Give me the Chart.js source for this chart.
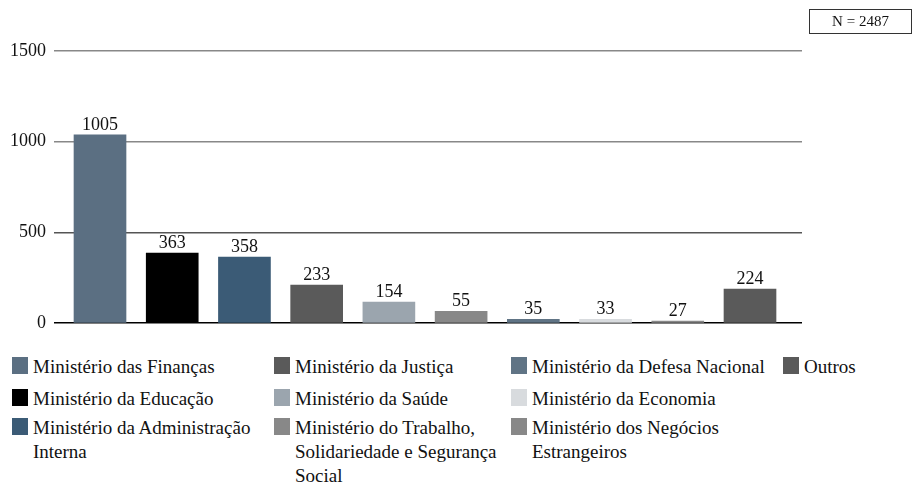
<!DOCTYPE html>
<html>
<head>
<meta charset="utf-8">
<script src="https://cdn.jsdelivr.net/npm/chart.js@4.4.0/dist/chart.umd.min.js"></script>
<style>
  body { margin: 0; background: #fff; font-family: "Liberation Serif", serif; }
  #wrap { position: relative; width: 913px; height: 482px; overflow: hidden; }
  #box { position: absolute; top: 0; left: 0; width: 913px; height: 342px; }
  #nbox { position: absolute; left: 809px; top: 9px; width: 101px; height: 23px; border: 1px solid #333;
          font-family: "Liberation Serif", serif; font-size: 15px; text-align: center; line-height: 23px; color: #111; }
  .item { position: absolute; padding-left: 21px; font-family: "Liberation Serif", serif; font-size: 19px;
          line-height: 24px; color: #111; }
  .sw { position: absolute; left: 0; top: 2px; width: 16px; height: 17px; }
</style>
</head>
<body>
<div id="wrap">
  <div id="box"><canvas id="grafico"></canvas></div>
  <div id="nbox">N = 2487</div>
  <div id="legend"></div>
</div>
<script>
// ministérios (ordem das barras)
var ministerios = [
  "Ministério das Finanças",
  "Ministério da Educação",
  "Ministério da Administração Interna",
  "Ministério da Justiça",
  "Ministério da Saúde",
  "Ministério do Trabalho, Solidariedade e Segurança Social",
  "Ministério da Defesa Nacional",
  "Ministério da Economia",
  "Ministério dos Negócios Estrangeiros",
  "Outros"
];
// altura das barras tal como desenhadas
var alturas = [1038, 387, 365, 210, 116, 66, 22, 22, 11, 188];
// numeros escritos por cima das barras
var rotulos = ["1005", "363", "358", "233", "154", "55", "35", "33", "27", "224"];
var cores = ["#5b6f82", "#000000", "#3b5b76", "#5a5a5a", "#9ba5ae", "#888888", "#607485", "#d8dbde", "#888888", "#5a5a5a"];
var ticksY = [0, 500, 1000, 1500];

var fonte = "Liberation Serif";

var pontos = [];
for (var i in alturas) {
  pontos.push({x: Number(i), y: alturas[i]});
}

var rotulosPlugin = {
  id: 'rotulos',
  afterDatasetsDraw: function(chart) {
    var ctx = chart.ctx;
    var meta = chart.getDatasetMeta(0);
    ctx.save();
    ctx.font = '18px "Liberation Serif"';
    ctx.fillStyle = '#111';
    ctx.textAlign = 'center';
    ctx.textBaseline = 'alphabetic';
    meta.data.forEach(function(bar, i) {
      ctx.fillText(rotulos[i], bar.x, bar.y - 5);
    });
    ctx.restore();
  }
};

var ctx = document.getElementById("grafico");
new Chart(ctx, {
  type: 'bar',
  data: {
    datasets: [{
      data: pontos,
      backgroundColor: cores,
      borderWidth: 0,
      barThickness: 52
    }]
  },
  options: {
    responsive: true,
    maintainAspectRatio: false,
    animation: false,
    layout: { padding: { top: 51, right: 111, bottom: 7, left: 0 } },
    plugins: { legend: { display: false }, tooltip: { enabled: false } },
    scales: {
      x: {
        type: 'linear',
        offset: false,
        min: -0.637,
        max: 9.72,
        display: false
      },
      y: {
        min: 0,
        max: 1500,
        afterBuildTicks: function(s) { s.ticks = ticksY.map(function(v) { return {value: v}; }); },
        afterFit: function(s) { s.width = 54; },
        border: { display: false },
        grid: {
          drawTicks: false,
          lineWidth: 1.5,
          color: function(c) {
            if (c.tick.value === 0) return '#000';
            if (c.tick.value === 500) return '#555';
            return '#888';
          }
        },
        ticks: {
          padding: 8,
          color: '#111',
          font: { family: fonte, size: 18 },
          callback: function(v) { return String(v); }
        }
      }
    }
  },
  plugins: [rotulosPlugin]
});

// legenda em 4 colunas, 3 linhas (ordem por coluna)
var colunasX = [12, 274, 511, 783];
var larguras = [251, 236, 261, 120];
var linhasY = [355, 387, 416];
var legenda = document.getElementById("legend");
for (var k in ministerios) {
  var c = Math.floor(k / 3), r = k % 3;
  var it = document.createElement("div");
  it.className = "item";
  it.style.left = colunasX[c] + "px";
  it.style.top = linhasY[r] + "px";
  it.style.width = larguras[c] + "px";
  it.innerHTML = '<span class="sw" style="background:' + cores[k] + '"></span>' + ministerios[k];
  legenda.appendChild(it);
}
</script>
</body>
</html>
